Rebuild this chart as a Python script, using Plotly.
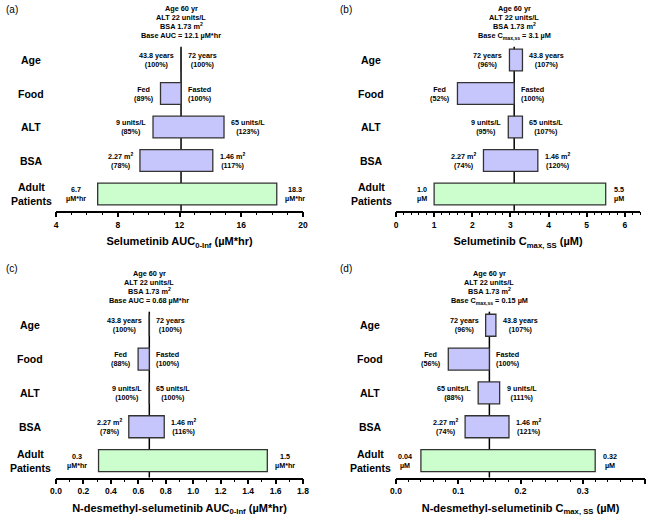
import plotly.graph_objects as go

# ---------------- data ----------------
rows = ["Age", "Food", "ALT", "BSA", "Adult Patients"]
row_labels = ["Age", "Food", "ALT", "BSA", "Adult<br>Patients"]

# panel (a) Selumetinib AUC
a_base = 12.1
a_low_text = ["43.8 years", "Fed", "9 units/L", "2.27 m<sup>2</sup>"]
a_low_pct = [100, 89, 85, 78]
a_high_text = ["72 years", "Fasted", "65 units/L", "1.46 m<sup>2</sup>"]
a_high_pct = [100, 100, 123, 117]
a_adult = [6.7, 18.3]
a_adult_text = ["6.7<br>µM*hr", "18.3<br>µM*hr"]

# panel (b) Selumetinib Cmax,ss
b_base = 3.1
b_low_text = ["72 years", "Fed", "9 units/L", "2.27 m<sup>2</sup>"]
b_low_pct = [96, 52, 95, 74]
b_high_text = ["43.8 years", "Fasted", "65 units/L", "1.46 m<sup>2</sup>"]
b_high_pct = [107, 100, 107, 120]
b_adult = [1.0, 5.5]
b_adult_text = ["1.0<br>µM", "5.5<br>µM"]

# panel (c) N-desmethyl AUC
c_base = 0.68
c_low_text = ["43.8 years", "Fed", "9 units/L", "2.27 m<sup>2</sup>"]
c_low_pct = [100, 88, 100, 78]
c_high_text = ["72 years", "Fasted", "65 units/L", "1.46 m<sup>2</sup>"]
c_high_pct = [100, 100, 100, 116]
c_adult = [0.31, 1.54]
c_adult_text = ["0.3<br>µM*hr", "1.5<br>µM*hr"]

# panel (d) N-desmethyl Cmax,ss
d_base = 0.15
d_low_text = ["72 years", "Fed", "65 units/L", "2.27 m<sup>2</sup>"]
d_low_pct = [96, 56, 88, 74]
d_high_text = ["43.8 years", "Fasted", "9 units/L", "1.46 m<sup>2</sup>"]
d_high_pct = [107, 100, 111, 121]
d_adult = [0.04, 0.32]
d_adult_text = ["0.04<br>µM", "0.32<br>µM"]

headers = ["Age 60 yr", "ALT 22 units/L", "BSA 1.73 m<sup>2</sup>"]
base_texts = ["Base AUC = 12.1 µM*hr", "Base C<sub>max,ss</sub> = 3.1 µM",
              "Base AUC = 0.68 µM*hr", "Base C<sub>max,ss</sub> = 0.15 µM"]
x_titles = ["Selumetinib AUC<sub>0-Inf</sub> (µM*hr)",
            "Selumetinib C<sub>max, SS</sub> (µM)",
            "N-desmethyl-selumetinib AUC<sub>0-Inf</sub> (µM*hr)",
            "N-desmethyl-selumetinib C<sub>max, SS</sub> (µM)"]
panel_tags = ["(a)", "(b)", "(c)", "(d)"]

# ---------------- layout config ----------------
W, H = 650, 517
FONT = "Arial, Liberation Sans, sans-serif"
LAV = "#c6c6fd"
GRN = "#ccfdcc"
EDGE = "#333333"

panels = [
    dict(base=a_base, lt=a_low_text, lp=a_low_pct, ht=a_high_text, hp=a_high_pct,
         adult=a_adult, at=a_adult_text, xd=[56, 303], yd=[46.7, 210.7],
         rng=[4, 20], dtick=4, minor=1, fmt="", cat_x=31, tag=(4, 10), agap=10),
    dict(base=b_base, lt=b_low_text, lp=b_low_pct, ht=b_high_text, hp=b_high_pct,
         adult=b_adult, at=b_adult_text, xd=[396, 640], yd=[46.7, 210.7],
         rng=[0, 6.4], dtick=1, minor=0.2, fmt="", cat_x=371, tag=(338, 10), agap=5),
    dict(base=c_base, lt=c_low_text, lp=c_low_pct, ht=c_high_text, hp=c_high_pct,
         adult=c_adult, at=c_adult_text, xd=[56, 303], yd=[311.7, 477.5],
         rng=[0, 1.8], dtick=0.2, minor=0.1, fmt=".1f", cat_x=30, tag=(4, 268), agap=10),
    dict(base=d_base, lt=d_low_text, lp=d_low_pct, ht=d_high_text, hp=d_high_pct,
         adult=d_adult, at=d_adult_text, xd=[396, 645], yd=[311.7, 477.5],
         rng=[0, 0.4], dtick=0.1, minor=0.02, fmt=".1f", cat_x=370, tag=(338, 268), agap=7),
]

fig = go.Figure()
annotations = []
shapes = []

for i, p in enumerate(panels):
    k = "" if i == 0 else str(i + 1)
    xa, ya = "x" + k, "y" + k
    base = p["base"]
    lows = [base * v / 100 for v in p["lp"]] + [p["adult"][0]]
    highs = [base * v / 100 for v in p["hp"]] + [p["adult"][1]]
    fig.add_trace(go.Bar(
        y=rows, x=[h - l for h, l in zip(highs, lows)], base=lows,
        orientation="h", width=0.65,
        marker=dict(color=[LAV] * 4 + [GRN], line=dict(color=EDGE, width=1.3)),
        xaxis=xa, yaxis=ya, showlegend=False, hoverinfo="skip"))

    x0 = p["xd"][0] / W
    x1 = p["xd"][1] / W
    y1 = 1 - p["yd"][0] / H
    y0 = 1 - p["yd"][1] / H
    axname = "xaxis" + k
    ayname = "yaxis" + k
    fig.update_layout({
        axname: dict(domain=[x0, x1], anchor=ya, range=p["rng"], dtick=p["dtick"],
                     tick0=0, tickformat=p["fmt"], showline=True, linecolor="black",
                     linewidth=1.5, ticks="outside", ticklen=5, tickwidth=1.5,
                     tickcolor="black", showgrid=False, zeroline=False, automargin=False,
                     tickfont=dict(family=FONT, size=8.5, color="black", weight="bold"),
                     minor=dict(dtick=p["minor"], tick0=0, ticks="outside", ticklen=3,
                                tickwidth=1.3, tickcolor="black", showgrid=False),
                     title=dict(text=x_titles[i], standoff=9,
                                font=dict(family=FONT, size=11, color="black", weight="bold"))),
        ayname: dict(domain=[y0, y1], anchor=xa, type="category",
                     categoryorder="array", categoryarray=rows, automargin=False,
                     range=[4.5, -0.4], visible=False, showgrid=False),
    })

    # base vertical line
    shapes.append(dict(type="line", xref=xa, yref=ya + " domain", x0=base, x1=base,
                       y0=0, y1=1, line=dict(color="black", width=1.5), layer="below"))

    # headers
    hdr = headers + [base_texts[i]]
    offs = [38.4, 29.4, 20.4, 11.0]
    for t, o in zip(hdr, offs):
        annotations.append(dict(text=t, x=base, xref=xa, y=y1, yref="paper",
                                yshift=o, xanchor="center", yanchor="middle",
                                showarrow=False,
                                font=dict(family=FONT, size=7.3, color="black", weight="bold")))

    # category labels
    for r, lab in zip(rows, row_labels):
        annotations.append(dict(text=lab, x=p["cat_x"] / W, xref="paper", y=r, yref=ya,
                                xanchor="center", yanchor="middle", showarrow=False,
                                font=dict(family=FONT, size=10.5, color="black", weight="bold")))

    # side labels
    small = dict(family=FONT, size=7.2, color="black", weight="bold")
    for j in range(4):
        annotations.append(dict(text=p["lt"][j] + "<br>(%d%%)" % p["lp"][j],
                                x=lows[j], xref=xa, y=rows[j], yref=ya, xanchor="right",
                                xshift=-5, align="center", showarrow=False, font=small))
        annotations.append(dict(text=p["ht"][j] + "<br>(%d%%)" % p["hp"][j],
                                x=highs[j], xref=xa, y=rows[j], yref=ya, xanchor="left",
                                xshift=5, align="center", showarrow=False, font=small))
    annotations.append(dict(text=p["at"][0], x=lows[4], xref=xa, y=rows[4], yref=ya,
                            xanchor="right", xshift=-p["agap"], align="center",
                            showarrow=False, font=small))
    annotations.append(dict(text=p["at"][1], x=highs[4], xref=xa, y=rows[4], yref=ya,
                            xanchor="left", xshift=6, align="center",
                            showarrow=False, font=small))

    # panel tag
    annotations.append(dict(text=panel_tags[i], x=p["tag"][0] / W, y=1 - p["tag"][1] / H,
                            xref="paper", yref="paper", xanchor="left", yanchor="middle",
                            showarrow=False, font=dict(family=FONT, size=10, color="black")))

fig.update_layout(width=W, height=H, margin=dict(l=0, r=0, t=0, b=0, autoexpand=False),
                  paper_bgcolor="white", plot_bgcolor="white",
                  annotations=annotations, shapes=shapes, bargap=0.35)

fig.write_html("out.html", config={"displayModeBar": False},
               post_script="document.body.style.margin='0';document.body.style.overflow='hidden';")
